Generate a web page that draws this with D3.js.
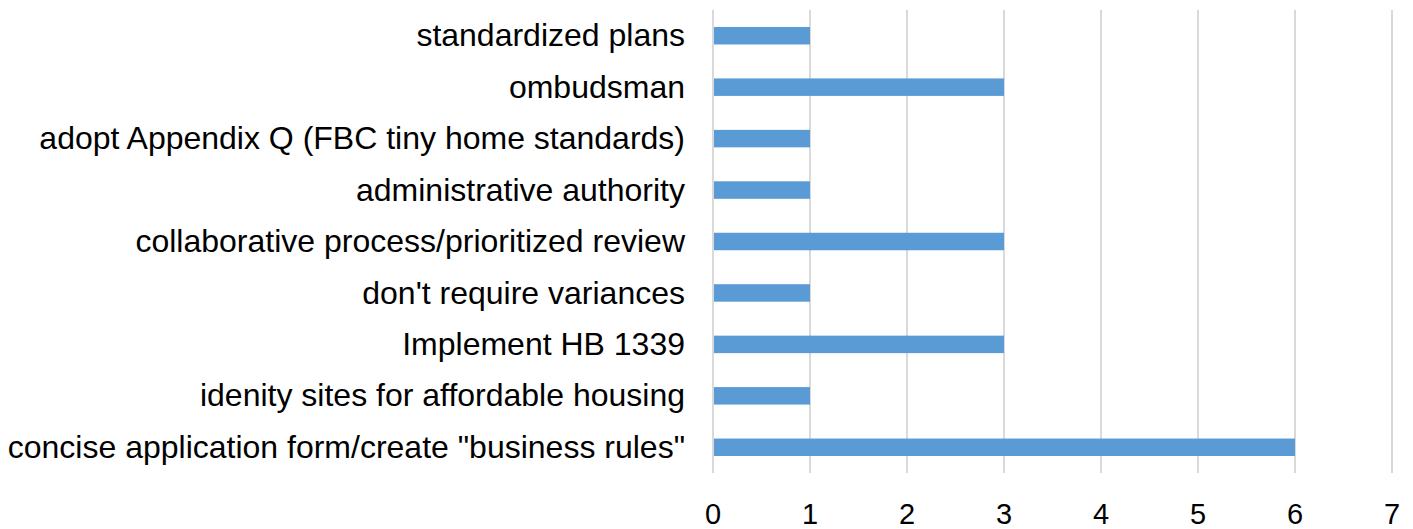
<!DOCTYPE html>
<html>
<head>
<meta charset="utf-8">
<script src="https://cdn.jsdelivr.net/npm/d3@7"></script>
<style>
  body { margin: 0; background: #fff; }
  text { font-family: "Liberation Sans", Arial, sans-serif; fill: #000; }
</style>
</head>
<body>
<div id="chart"></div>
<script>
    // data
    var categories = [
        "standardized plans",
        "ombudsman",
        "adopt Appendix Q (FBC tiny home standards)",
        "administrative authority",
        "collaborative process/prioritized review",
        "don't require variances",
        "Implement HB 1339",
        "idenity sites for affordable housing",
        "concise application form/create \"business rules\""
    ];
    var values = [1, 3, 1, 1, 3, 1, 3, 1, 6];
    var xTicks = [0, 1, 2, 3, 4, 5, 6, 7];

    var width = 1413;
    var height = 529;
    var margin = {top: 10, left: 713, right: 20, bottom: 56};

    var svg = d3.select("#chart").append("svg")
        .attr("width", width)
        .attr("height", height);

    var x = d3.scaleLinear().domain([0, 7]).range([margin.left, margin.left + 7 * 97]);
    var y = d3.scaleBand().domain(categories)
        .range([margin.top, height - margin.bottom])
        .paddingInner(0.66).paddingOuter(0.33);

    //gridlines
    svg.append("g").selectAll("line")
        .data(xTicks).enter().append("line")
        .attr("x1", function(d){ return x(d); })
        .attr("x2", function(d){ return x(d); })
        .attr("y1", margin.top)
        .attr("y2", height - margin.bottom)
        .attr("stroke", "#d9d9d9")
        .attr("stroke-width", 2);

    //bars
    svg.append("g").selectAll("rect")
        .data(values).enter().append("rect")
        .attr("x", x(0) + 1)
        .attr("y", function(d, i){ return y(categories[i]); })
        .attr("width", function(d){ return x(d) - x(0) - 1; })
        .attr("height", y.bandwidth())
        .attr("fill", "#5b9bd5");

    //category labels
    svg.append("g").selectAll("text")
        .data(categories).enter().append("text")
        .attr("x", margin.left - 28)
        .attr("y", function(d){ return y(d) + y.bandwidth() / 2; })
        .attr("dy", "0.33em")
        .attr("text-anchor", "end")
        .attr("font-size", "32px")
        .text(function(d){ return d; });

    //x axis labels
    svg.append("g").selectAll("text")
        .data(xTicks).enter().append("text")
        .attr("x", function(d){ return x(d); })
        .attr("y", 524)
        .attr("text-anchor", "middle")
        .attr("font-size", "29px")
        .text(function(d){ return d; });
</script>
</body>
</html>
